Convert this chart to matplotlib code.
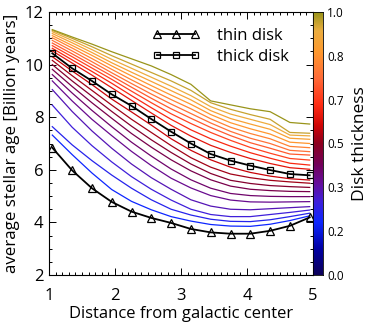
import matplotlib
matplotlib.use("Agg")
import matplotlib.pyplot as plt
from matplotlib.colors import LinearSegmentedColormap, Normalize
from matplotlib.ticker import MultipleLocator
import numpy as np

plt.rcParams["font.family"] = ["Open Sans", "DejaVu Sans"]

# radial bins (Distance from galactic center)
radius = [1.05, 1.35, 1.65, 1.95, 2.25, 2.55, 2.85, 3.15, 3.45, 3.75, 4.05, 4.35, 4.65, 4.95]

thin_disk = [6.84, 5.98, 5.30, 4.78, 4.41, 4.17, 3.98, 3.75, 3.62, 3.57, 3.57, 3.68, 3.87, 4.19]
thick_disk = [10.43, 9.86, 9.38, 8.87, 8.43, 7.93, 7.45, 7.00, 6.60, 6.35, 6.16, 5.99, 5.84, 5.79]

thickness_levels = [0.20, 0.24, 0.28, 0.32, 0.36, 0.40, 0.44, 0.48, 0.52, 0.56,
                    0.60, 0.64, 0.68, 0.72, 0.76, 0.80, 0.84, 0.88, 0.92, 0.96, 1.00]

age_by_thickness = [
    [7.32, 6.58, 5.88, 5.25, 4.80, 4.48, 4.22, 4.05, 3.92, 3.86, 3.85, 3.93, 4.07, 4.25],
    [7.64, 6.95, 6.35, 5.80, 5.30, 4.86, 4.50, 4.28, 4.12, 4.04, 4.03, 4.10, 4.22, 4.35],
    [8.46, 7.62, 6.92, 6.30, 5.74, 5.26, 4.85, 4.50, 4.30, 4.22, 4.22, 4.30, 4.38, 4.47],
    [9.05, 8.22, 7.48, 6.82, 6.22, 5.70, 5.26, 4.86, 4.62, 4.50, 4.48, 4.52, 4.56, 4.60],
    [9.38, 8.62, 7.92, 7.30, 6.70, 6.16, 5.68, 5.31, 5.02, 4.85, 4.78, 4.77, 4.78, 4.79],
    [9.62, 8.92, 8.26, 7.64, 7.05, 6.52, 6.03, 5.62, 5.30, 5.10, 5.02, 4.99, 4.98, 4.98],
    [9.82, 9.17, 8.55, 7.96, 7.38, 6.86, 6.38, 5.96, 5.62, 5.38, 5.26, 5.21, 5.18, 5.17],
    [10.00, 9.38, 8.80, 8.22, 7.66, 7.14, 6.66, 6.22, 5.86, 5.60, 5.48, 5.40, 5.36, 5.33],
    [10.16, 9.58, 9.02, 8.46, 7.92, 7.42, 6.92, 6.46, 6.10, 5.84, 5.70, 5.60, 5.54, 5.49],
    [10.30, 9.76, 9.24, 8.69, 8.20, 7.70, 7.18, 6.74, 6.38, 6.10, 5.90, 5.76, 5.66, 5.61],
    [10.52, 10.06, 9.60, 9.12, 8.64, 8.16, 7.69, 7.28, 6.93, 6.66, 6.43, 6.24, 6.08, 6.02],
    [10.62, 10.18, 9.74, 9.29, 8.82, 8.36, 7.92, 7.52, 7.18, 6.90, 6.65, 6.44, 6.25, 6.18],
    [10.72, 10.30, 9.87, 9.44, 8.99, 8.55, 8.13, 7.76, 7.42, 7.12, 6.85, 6.63, 6.43, 6.37],
    [10.82, 10.41, 9.99, 9.57, 9.14, 8.72, 8.32, 7.96, 7.61, 7.30, 7.03, 6.82, 6.60, 6.56],
    [10.92, 10.52, 10.11, 9.69, 9.28, 8.88, 8.50, 8.14, 7.78, 7.46, 7.20, 7.00, 6.74, 6.69],
    [11.02, 10.63, 10.23, 9.82, 9.42, 9.04, 8.67, 8.32, 7.94, 7.62, 7.38, 7.18, 6.89, 6.84],
    [11.10, 10.73, 10.35, 9.95, 9.57, 9.20, 8.84, 8.49, 8.10, 7.79, 7.56, 7.36, 7.05, 7.00],
    [11.18, 10.83, 10.46, 10.07, 9.71, 9.36, 9.01, 8.66, 8.25, 7.95, 7.74, 7.54, 7.20, 7.16],
    [11.25, 10.92, 10.57, 10.20, 9.86, 9.52, 9.18, 8.82, 8.40, 8.12, 7.92, 7.72, 7.32, 7.29],
    [11.30, 11.00, 10.68, 10.34, 10.02, 9.70, 9.38, 9.02, 8.55, 8.30, 8.10, 7.92, 7.42, 7.39],
    [11.33, 11.05, 10.78, 10.49, 10.22, 9.95, 9.62, 9.25, 8.62, 8.47, 8.32, 8.21, 7.80, 7.74],
]

cbar_ticks = [0.0, 1 / 6, 2 / 6, 0.5, 4 / 6, 5 / 6, 1.0]

# IDL-like colour table: navy -> blue -> purple -> red -> orange -> olive
cmap = LinearSegmentedColormap.from_list("disk", [
    (0.00, (0.05, 0.00, 0.35)),
    (0.10, (0.00, 0.00, 0.65)),
    (0.20, (0.05, 0.15, 1.00)),
    (0.28, (0.25, 0.12, 0.85)),
    (0.35, (0.40, 0.05, 0.60)),
    (0.42, (0.45, 0.00, 0.35)),
    (0.50, (0.55, 0.00, 0.12)),
    (0.57, (0.82, 0.02, 0.02)),
    (0.65, (1.00, 0.18, 0.08)),
    (0.75, (1.00, 0.42, 0.22)),
    (0.85, (1.00, 0.60, 0.18)),
    (0.93, (0.92, 0.68, 0.25)),
    (1.00, (0.60, 0.58, 0.10)),
])
norm = Normalize(0, 1)

fig = plt.figure(figsize=(3.70, 3.29), dpi=100)
ax = fig.add_axes([49 / 370, 1 - 275 / 329, 264 / 370, 263 / 329])
cax = fig.add_axes([313 / 370, 1 - 275 / 329, 10 / 370, 263 / 329])

for level, ages in zip(thickness_levels, age_by_thickness):
    ax.plot(radius, ages, color=cmap(norm(level)), lw=0.9, zorder=2)

ax.plot(radius, thin_disk, color="black", lw=1.3, marker="^", ms=5.5,
        mfc="none", mec="black", mew=0.9, label="thin disk", zorder=4)
ax.plot(radius, thick_disk, color="black", lw=1.3, marker="s", ms=5,
        mfc="none", mec="black", mew=0.9, label="thick disk", zorder=4)

ax.set_xlim(1, 5)
ax.set_ylim(2, 12)
ax.xaxis.set_major_locator(MultipleLocator(1))
ax.xaxis.set_minor_locator(MultipleLocator(0.1))
ax.yaxis.set_major_locator(MultipleLocator(2))
ax.yaxis.set_minor_locator(MultipleLocator(0.5))
ax.tick_params(which="both", direction="in", top=True, right=True, width=0.7)
ax.tick_params(which="major", length=5, labelsize=12)
ax.tick_params(axis="x", which="major", pad=9)
ax.tick_params(axis="y", which="major", pad=4)
ax.tick_params(which="minor", length=2.5)
for spine in ax.spines.values():
    spine.set_linewidth(0.8)

ax.set_xlabel("Distance from galactic center", fontsize=12, labelpad=2)
ax.set_ylabel("average stellar age [Billion years]", fontsize=12.2, labelpad=3)

ax.legend(loc="upper left", frameon=False, numpoints=3, handlelength=2.87,
          handletextpad=1.0, fontsize=12, borderpad=0, labelspacing=0.3,
          bbox_to_anchor=((144 - 49) / 264, 0.972))

gradient = np.linspace(0, 1, 256).reshape(-1, 1)
cax.imshow(gradient, cmap=cmap, aspect="auto", origin="lower", extent=[0, 1, 0, 1])
cax.set_xticks([])
cax.yaxis.tick_right()
cax.set_yticks(cbar_ticks)
cax.set_yticklabels([f"{t:.1f}" for t in cbar_ticks])
cax.tick_params(axis="y", length=0, labelsize=8.5, pad=3)
cax.yaxis.set_label_position("right")
cax.set_ylabel("Disk thickness", fontsize=12.5, labelpad=6)
for spine in cax.spines.values():
    spine.set_linewidth(0.6)

fig.savefig("out.png", dpi=100)
